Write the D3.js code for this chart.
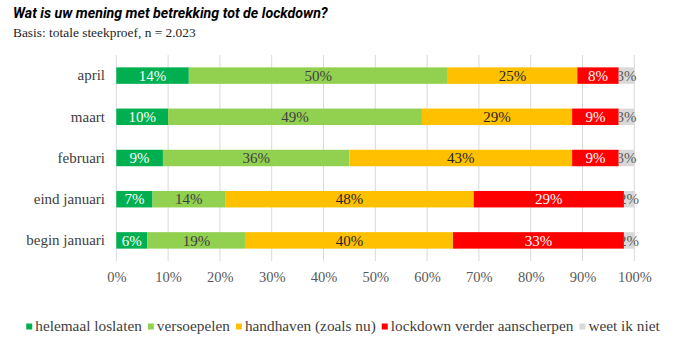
<!DOCTYPE html>
<html><head><meta charset="utf-8">
<script src="https://cdn.jsdelivr.net/npm/d3@7"></script>
<style>body{margin:0;background:#fff}</style>
</head><body><svg id="c" width="681" height="342"></svg>
<script>
const categories = ["april","maart","februari","eind januari","begin januari"];
const seriesNames = ["helemaal loslaten","versoepelen","handhaven (zoals nu)","lockdown verder aanscherpen","weet ik niet"];
const helemaalLoslaten = [14,10,9,7,6];
const versoepelen = [50,49,36,14,19];
const handhaven = [25,29,43,48,40];
const aanscherpen = [8,9,9,29,33];
const weetIkNiet = [3,3,3,2,2];
const tickValues = [0,10,20,30,40,50,60,70,80,90,100];

const seriesValues = [helemaalLoslaten, versoepelen, handhaven, aanscherpen, weetIkNiet];
const colors = ["#00B050","#92D050","#FFC000","#FF0000","#D9D9D9"];
const labelColors = ["#ffffff","#404040","#262626","#ffffff","#595959"];
const serif = "'Liberation Serif', 'DejaVu Serif', serif";

const rows = categories.map((c,i)=>{const o={cat:c}; seriesNames.forEach((s,j)=>o[s]=seriesValues[j][i]); return o;});
const stack = d3.stack().keys(seriesNames)(rows);

const svg = d3.select("#c");
const x = d3.scaleLinear().domain([0,100]).range([116.3,634.3]);
const y = d3.scaleBand().domain(categories).range([55,261]).paddingInner(0.6).paddingOuter(0.3);

svg.append("text").attr("x",13).attr("y",18).attr("font-family","Roboto, sans-serif")
  .attr("font-weight","bold").attr("font-style","italic").attr("font-size",14.2).attr("fill","#000")
  .text("Wat is uw mening met betrekking tot de lockdown?");
svg.append("text").attr("x",13).attr("y",37).attr("font-family",serif)
  .attr("font-size",13.4).attr("fill","#262626").text("Basis: totale steekproef, n = 2.023");

// gridlines
svg.append("g").selectAll("line").data(tickValues).join("line")
  .attr("x1",d=>x(d)).attr("x2",d=>x(d)).attr("y1",55).attr("y2",261)
  .attr("stroke","#d9d9d9").attr("stroke-width",1);

// x axis labels
const xAxis = d3.axisBottom(x).tickValues(tickValues).tickFormat(d=>d+"%").tickSize(0).tickPadding(0);
const gx = svg.append("g").attr("transform","translate(0,272)").call(xAxis);
gx.select(".domain").remove();
gx.selectAll("text").attr("font-family",serif).attr("font-size",14.5).attr("fill","#595959");

// y axis labels
const yAxis = d3.axisLeft(y).tickSize(0).tickPadding(0);
const gy = svg.append("g").attr("transform","translate(105,0)").call(yAxis);
gy.select(".domain").remove();
gy.selectAll("text").attr("font-family",serif).attr("font-size",15).attr("fill","#404040");

const defs = svg.append("defs");
stack.forEach((layer,j)=>{
  const g = svg.append("g");
  g.selectAll("rect").data(layer).join("rect")
    .attr("x",d=>x(d[0])).attr("width",d=>x(d[1])-x(d[0]))
    .attr("y",d=>y(d.data.cat)).attr("height",y.bandwidth())
    .attr("fill",colors[j]);
});
stack.forEach((layer,j)=>{
  const g = svg.append("g");
  layer.forEach((d,i)=>{
    let clip = null;
    if (j===seriesNames.length-1){
      const id="clip"+i;
      defs.append("clipPath").attr("id",id).append("rect")
        .attr("x",x(d[0])).attr("y",y(d.data.cat)-5).attr("width",60).attr("height",y.bandwidth()+10);
      clip="url(#"+id+")";
    }
    g.append("text").attr("x",(x(d[0])+x(d[1]))/2).attr("y",y(d.data.cat)+y.bandwidth()/2)
      .attr("dy","0.35em").attr("text-anchor","middle").attr("font-family",serif).attr("font-size",15)
      .attr("fill",labelColors[j]).attr("clip-path",clip).text((d[1]-d[0])+"%");
  });
});

// legend
const lg = svg.append("g");
let cx = 0;
seriesNames.forEach((s,j)=>{
  const it = lg.append("g");
  it.append("rect").attr("x",0).attr("y",-7.5).attr("width",6).attr("height",6).attr("fill",colors[j]);
  const t = it.append("text").attr("x",9).attr("y",0).attr("font-family",serif).attr("font-size",15.3)
    .attr("fill","#404040").text(s);
  const w = 9 + t.node().getComputedTextLength();
  it.attr("transform","translate("+cx+",0)");
  cx += w + 6;
});
const total = cx - 6;
lg.attr("transform","translate("+(343-total/2)+",331)");
</script></body></html>
